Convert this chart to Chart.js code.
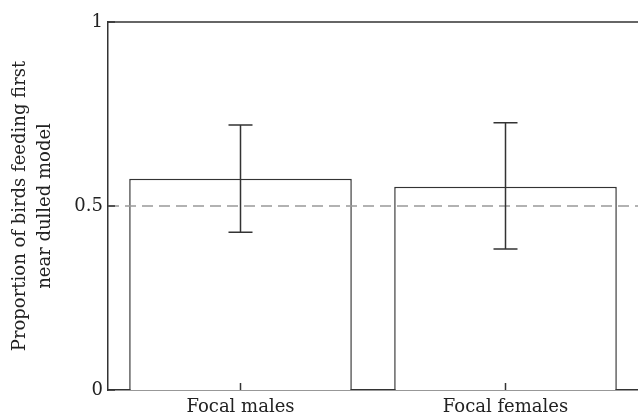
<!DOCTYPE html>
<html>
<head>
<meta charset="utf-8">
<script src="https://cdn.jsdelivr.net/npm/chart.js@4"></script>
<style>
    html, body { margin: 0; padding: 0; background: #fff; }
    #wrap { width: 638px; height: 418px; }
</style>
</head>
<body>
<div id="wrap"><canvas id="barChart" width="638" height="418"></canvas></div>
<script>
// dados
var categorias = ['Focal males', 'Focal females'];
var proporcoes = [0.574, 0.552];
var erroSuperior = [0.720, 0.726];
var erroInferior = [0.429, 0.383];
var linhaReferencia = 0.5;
var yTicks = [0, 0.5, 1];

var corEixo = '#333333';
var fonteSerif = '"DejaVu Serif", "Liberation Serif", serif';

// barras de erro, linha tracejada, borda superior e ticks internos
var extrasPlugin = {
    id: 'extras',
    afterDatasetsDraw: function(chart) {
        var ctx = chart.ctx;
        var x = chart.scales.x;
        var y = chart.scales.y;
        var area = chart.chartArea;
        ctx.save();

        // linha de referência em 0.5
        ctx.strokeStyle = '#999999';
        ctx.lineWidth = 1.5;
        ctx.setLineDash([11, 6]);
        var yRef = y.getPixelForValue(linhaReferencia);
        ctx.beginPath();
        ctx.moveTo(area.left, yRef);
        ctx.lineTo(area.right, yRef);
        ctx.stroke();
        ctx.setLineDash([]);

        // barras de erro
        ctx.strokeStyle = corEixo;
        ctx.lineWidth = 1.5;
        for (var i = 0; i < categorias.length; i++) {
            var cx = x.getPixelForValue(i);
            var yTop = y.getPixelForValue(erroSuperior[i]);
            var yBot = y.getPixelForValue(erroInferior[i]);
            ctx.beginPath();
            ctx.moveTo(cx, yTop);
            ctx.lineTo(cx, yBot);
            ctx.moveTo(cx - 12, yTop);
            ctx.lineTo(cx + 12, yTop);
            ctx.moveTo(cx - 12, yBot);
            ctx.lineTo(cx + 12, yBot);
            ctx.stroke();

            // tick interno no eixo x
            ctx.beginPath();
            ctx.moveTo(cx, area.bottom);
            ctx.lineTo(cx, area.bottom - 7);
            ctx.stroke();
        }

        // ticks internos no eixo y
        for (var j = 0; j < yTicks.length; j++) {
            var ty = y.getPixelForValue(yTicks[j]);
            ctx.beginPath();
            ctx.moveTo(area.left, ty);
            ctx.lineTo(area.left + 7, ty);
            ctx.stroke();
        }

        // borda superior
        ctx.beginPath();
        ctx.moveTo(area.left, area.top);
        ctx.lineTo(area.right, area.top);
        ctx.stroke();
        ctx.restore();
    }
};

var ctxBar = document.getElementById('barChart');
var barChart = new Chart(ctxBar, {
    type: 'bar',
    data: {
        labels: categorias,
        datasets: [{
            data: proporcoes,
            backgroundColor: '#ffffff',
            borderColor: corEixo,
            borderWidth: 1.5,
            barPercentage: 0.84,
            categoryPercentage: 1.0
        }]
    },
    options: {
        responsive: false,
        animation: false,
        layout: { padding: { top: 22, right: 0, bottom: 0, left: 0 } },
        plugins: {
            legend: { display: false },
            tooltip: { enabled: false }
        },
        scales: {
            x: {
                grid: { display: false, drawTicks: false },
                border: { display: true, color: corEixo, width: 1.5 },
                ticks: {
                    color: '#222222',
                    padding: 7,
                    font: { family: fonteSerif, size: 18 }
                },
                afterFit: function(scale) { scale.height = 28; }
            },
            y: {
                min: 0,
                max: 1,
                afterBuildTicks: function(scale) {
                    scale.ticks = yTicks.map(function(v) { return { value: v }; });
                },
                grid: { display: false, drawTicks: false },
                border: { display: true, color: corEixo, width: 1.5 },
                ticks: {
                    color: '#222222',
                    padding: 5,
                    font: { family: fonteSerif, size: 18 },
                    callback: function(value) { return String(value); }
                },
                title: {
                    display: true,
                    text: ['Proportion of birds feeding first', 'near dulled model'],
                    color: '#222222',
                    font: { family: fonteSerif, size: 18, lineHeight: 1.4 },
                    padding: { top: 8, bottom: 0 }
                },
                afterFit: function(scale) { scale.width = 108; }
            }
        }
    },
    plugins: [extrasPlugin]
});
</script>
</body>
</html>
